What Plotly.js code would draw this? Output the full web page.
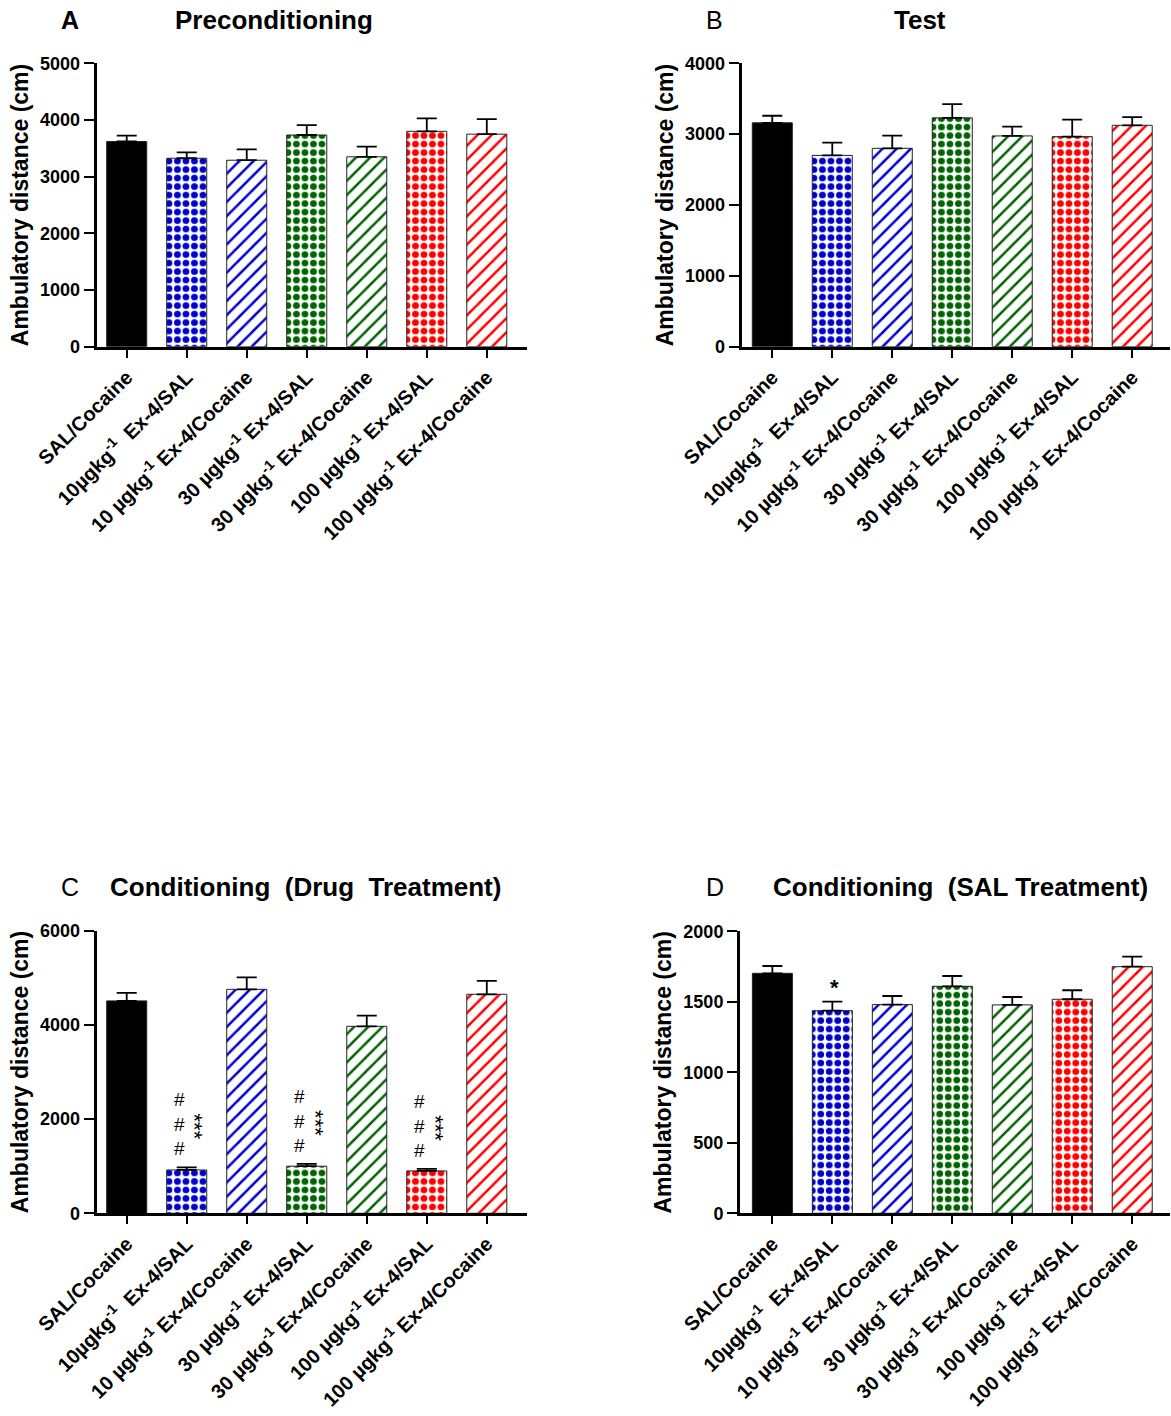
<!DOCTYPE html>
<html>
<head>
<meta charset="utf-8">
<script src="https://cdn.plot.ly/plotly-3.0.1.min.js"></script>
<style>html,body{margin:0;padding:0;background:#fff;}#chart{width:1171px;height:1416px;}</style>
</head>
<body>
<div id="chart"></div>
<script>
// ---------- data ----------
const categories = [
  "SAL/Cocaine",
  "10µgkg<sup>-1</sup>\u00A0 Ex-4/SAL",
  "10 µgkg<sup>-1</sup> Ex-4/Cocaine",
  "30 µgkg<sup>-1</sup> Ex-4/SAL",
  "30 µgkg<sup>-1</sup> Ex-4/Cocaine",
  "100 µgkg<sup>-1</sup> Ex-4/SAL",
  "100 µgkg<sup>-1</sup> Ex-4/Cocaine"
];
const precondMean = [3620, 3325, 3290, 3735, 3350, 3800, 3750];
const precondSem  = [105, 105, 190, 175, 180, 230, 265];
const testMean = [3160, 2700, 2800, 3230, 2975, 2965, 3125];
const testSem  = [100, 180, 180, 195, 130, 240, 115];
const drugMean = [4510, 920, 4755, 1000, 3970, 900, 4650];
const drugSem  = [170, 57, 255, 50, 225, 42, 283];
const salMean = [1702, 1437, 1480, 1610, 1478, 1518, 1749];
const salSem  = [52, 64, 61, 73, 56, 64, 71];
const drugHash  = ["", "#<br>#<br>#", "", "#<br>#<br>#", "", "#<br>#<br>#", ""];
const drugStars = ["", "***", "", "***", "", "***", ""];
const salStars  = ["", "*", "", "", "", "", ""];
const panelLetters = ["A", "B", "C", "D"];
const panelTitles = ["Preconditioning", "Test", "Conditioning\u00A0 (Drug\u00A0 Treatment)", "Conditioning\u00A0 (SAL Treatment)"];
const yTitle = "Ambulatory distance (cm)";

// ---------- styling ----------
const FONT = "Liberation Sans, Arial, Helvetica, sans-serif";
const barColors = ["#000000", "#0000CC", "#0000CC", "#006400", "#006400", "#FF0000", "#FF0000"];
const shapes = ["", ".", "/", ".", "/", ".", "/"];
const pSizes = [8, 8.5, 10, 8.5, 10, 8.5, 10];
const pSolid = [0.3, 0.5, 0.25, 0.5, 0.25, 0.5, 0.25];

function barTrace(means, sems, xa, ya) {
  return {
    type: "bar", x: categories, y: means, xaxis: xa, yaxis: ya, width: 0.667,
    marker: {
      color: barColors,
      line: {color: "#222", width: 1},
      pattern: {shape: shapes, fgcolor: barColors, bgcolor: "white", size: pSizes, solidity: pSolid, fillmode: "replace"}
    },
    error_y: {type: "data", symmetric: false, array: sems, arrayminus: sems.map(() => 0),
              color: "#000", thickness: 1.8, width: 10},
    hoverinfo: "skip"
  };
}

const data = [
  barTrace(precondMean, precondSem, "x", "y"),
  barTrace(testMean, testSem, "x2", "y2"),
  barTrace(drugMean, drugSem, "x3", "y3"),
  barTrace(salMean, salSem, "x4", "y4")
];

const W = 1171, H = 1416;
function xAx(px0, px1, r0, r1, anchor) {
  return {
    domain: [px0 / W, px1 / W], anchor: anchor, type: "category", range: [r0, r1],
    showline: true, linecolor: "#000", linewidth: 3, ticks: "outside", ticklen: 8, tickwidth: 2,
    tickcolor: "#000", tickangle: -45, showgrid: false, zeroline: false, fixedrange: true,
    tickfont: {family: FONT, size: 20, color: "#000", weight: "bold"}
  };
}
function yAx(py0, py1, maxv, dt, anchor) {
  return {
    domain: [1 - py1 / H, 1 - py0 / H], anchor: anchor, range: [0, maxv], dtick: dt, tick0: 0,
    showline: true, linecolor: "#000", linewidth: 3, ticks: "outside", ticklen: 10, tickwidth: 2,
    tickcolor: "#000", showgrid: false, zeroline: false, fixedrange: true,
    tickfont: {family: FONT, size: 18, color: "#000", weight: "bold"},
    title: {text: yTitle, font: {family: FONT, size: 23, color: "#000", weight: "bold"}, standoff: 6}
  };
}

const annotations = [];
function panelAnn(letter, lx, title, tx, py, boldLetter) {
  annotations.push({xref: "paper", yref: "paper", x: lx / W, y: 1 - py / H, text: letter, showarrow: false,
    xanchor: "center", yanchor: "middle", font: {family: FONT, size: 25, color: "#000", weight: boldLetter ? "bold" : "normal"}});
  annotations.push({xref: "paper", yref: "paper", x: tx / W, y: 1 - py / H, text: title, showarrow: false,
    xanchor: "center", yanchor: "middle", font: {family: FONT, size: 26, color: "#000", weight: "bold"}});
}
panelAnn(panelLetters[0], 70, panelTitles[0], 274, 20, true);
panelAnn(panelLetters[1], 714, panelTitles[1], 920, 20, false);
panelAnn(panelLetters[2], 70, panelTitles[2], 305, 887, false);
panelAnn(panelLetters[3], 715, panelTitles[3], 960, 887, false);

categories.forEach((c, i) => {
  if (drugHash[i]) annotations.push({xref: "x3", yref: "y3", x: c, y: drugMean[i] + drugSem[i], text: drugHash[i],
    showarrow: false, xanchor: "center", yanchor: "bottom", xshift: -7, yshift: 6,
    font: {family: FONT, size: 19, color: "#000"}});
  if (drugStars[i]) annotations.push({xref: "x3", yref: "y3", x: c, y: drugMean[i] + drugSem[i], text: drugStars[i],
    showarrow: false, xanchor: "center", yanchor: "middle", textangle: 90, xshift: 8, yshift: 41,
    font: {family: FONT, size: 22, color: "#000"}});
  if (salStars[i]) annotations.push({xref: "x4", yref: "y4", x: c, y: salMean[i] + salSem[i], text: salStars[i],
    showarrow: false, xanchor: "center", yanchor: "middle", xshift: 2, yshift: 14,
    font: {family: FONT, size: 22, color: "#000", weight: "bold"}});
});

const layout = {
  width: W, height: H, margin: {l: 0, r: 0, t: 0, b: 0}, showlegend: false,
  paper_bgcolor: "#fff", plot_bgcolor: "#fff", font: {family: FONT, color: "#000"},
  bargap: 0.333,
  xaxis: xAx(96.7, 527, -0.5, 6.67, "y"),
  yaxis: yAx(63.3, 346.7, 5000, 1000, "x"),
  xaxis2: xAx(741.7, 1170, -0.51, 6.63, "y2"),
  yaxis2: yAx(63.3, 346.7, 4000, 1000, "x2"),
  xaxis3: xAx(96.7, 527, -0.5, 6.67, "y3"),
  yaxis3: yAx(930.7, 1213.3, 6000, 2000, "x3"),
  xaxis4: xAx(740, 1170, -0.54, 6.63, "y4"),
  yaxis4: yAx(931.3, 1213.3, 2000, 500, "x4"),
  annotations: annotations
};

Plotly.newPlot("chart", data, layout, {staticPlot: true, displayModeBar: false});
</script>
</body>
</html>
